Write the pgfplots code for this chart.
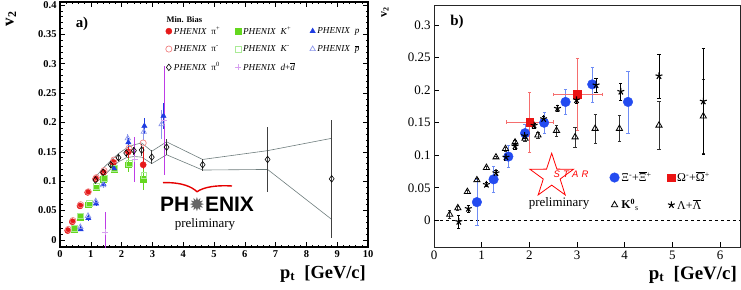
\documentclass[border=0pt]{standalone}
\usepackage{fontspec}
\setmainfont{Liberation Serif}
\newfontfamily\phx{Liberation Sans}
\newfontfamily\dejavu{DejaVu Sans}
\usepackage{pgfplots}
\pgfplotsset{compat=1.18}
\usetikzlibrary{shapes.geometric}
\definecolor{pired}{RGB}{230,25,25}
\definecolor{pilred}{RGB}{240,130,130}
\definecolor{kgreen}{RGB}{100,215,30}
\definecolor{klgreen}{RGB}{170,235,150}
\definecolor{pblue}{RGB}{30,60,225}
\definecolor{plblue}{RGB}{140,150,235}
\definecolor{dmag}{RGB}{190,60,230}
\definecolor{dlmag}{RGB}{215,160,240}
\definecolor{bandgray}{RGB}{110,125,125}
\definecolor{xiblue}{RGB}{35,75,240}
\definecolor{xilblue}{RGB}{110,140,245}
\definecolor{omred}{RGB}{235,20,20}
\definecolor{omlred}{RGB}{245,110,110}
\begin{document}
\begin{tikzpicture}
\useasboundingbox (0,0) rectangle (741bp,290bp);
%================ LEFT PANEL =================
\begin{axis}[at={(60bp,43bp)}, anchor=south west, scale only axis,
  width=308bp, height=245bp,
  xmin=0, xmax=10, ymin=-0.012, ymax=0.405,
  axis line style={line width=1.2bp},
  tick align=inside, tick style={black, line width=0.6bp},
  major tick length=5bp, minor tick length=2.5bp,
  xtick={0,1,...,10}, ytick={0,0.05,0.1,0.15,0.2,0.25,0.3,0.35,0.4},
  minor x tick num=4, minor y tick num=4,
  /pgf/number format/assume math mode=true,
  ticklabel style={font=\bfseries\fontsize{10.5}{12}\selectfont},
  yticklabel style={/pgf/number format/fixed, /pgf/number format/precision=2},
  legend columns=3,
  legend cell align=left,
  legend style={at={(axis cs:3.33,0.370)}, anchor=north west, draw=none, fill=none,
    font=\fontsize{9.2}{10}\selectfont, row sep=5.5bp,
    /tikz/every even column/.append style={column sep=13bp}},
]
% pi0 systematic band
\addplot[bandgray, line width=0.6bp, forget plot] coordinates {(1.15,0.107)(1.4,0.122)(1.65,0.135)(1.9,0.147)(2.15,0.156)(2.4,0.162)(2.65,0.165)(2.98,0.151)(3.46,0.167)(4.63,0.137)(6.74,0.152)(8.82,0.173)};
\addplot[bandgray, line width=0.6bp, forget plot] coordinates {(1.15,0.097)(1.4,0.108)(1.65,0.121)(1.9,0.133)(2.15,0.140)(2.4,0.142)(2.65,0.141)(2.98,0.130)(3.46,0.145)(4.63,0.119)(6.74,0.120)(8.82,0.035)};
% pi+
\addplot[only marks, mark=*, mark size=3.1bp, color=pired,
  error bars/.cd, y dir=both, y explicit, error bar style={pired, line width=0.8bp}, error mark=none]
  coordinates {(0.25,0.016)+-(0,0.002)(0.40,0.031)+-(0,0.002)(0.65,0.058)+-(0,0.002)(0.90,0.081)+-(0,0.002)(1.16,0.104)+-(0,0.003)(1.41,0.115)+-(0,0.003)(1.73,0.132)+-(0,0.004)(2.22,0.150)+-(0,0.010)(2.70,0.128)+-(0,0.030)};
\addlegendentry{\textit{PHENIX}~~π\textsuperscript{+}}
% K+
\addplot[only marks, mark=square*, mark size=2.9bp, color=kgreen,
  error bars/.cd, y dir=both, y explicit, error bar style={kgreen, line width=0.8bp}, error mark=none]
  coordinates {(0.45,0.018)+-(0,0.004)(0.65,0.039)+-(0,0.003)(0.92,0.060)+-(0,0.003)(1.17,0.089)+-(0,0.004)(1.41,0.103)+-(0,0.005)(1.75,0.120)+-(0,0.006)(2.22,0.128)+-(0,0.012)(2.70,0.103)+-(0,0.018)};
\addlegendentry{\textit{PHENIX}~~\textit{K}\textsuperscript{+}}
% p
\addplot[only marks, mark=triangle*, mark size=3.1bp, color=pblue,
  error bars/.cd, y dir=both, y explicit, error bar style={pblue, line width=0.8bp}, error mark=none]
  coordinates {(0.67,0.018)+-(0,0.003)(0.92,0.037)+-(0,0.004)(1.17,0.062)+-(0,0.004)(1.41,0.095)+-(0,0.005)(1.75,0.122)+-(0,0.006)(2.22,0.166)+-(0,0.008)(2.74,0.194)+-(0,0.013)(3.36,0.211)+-(0,0.022)};
\addlegendentry{\textit{PHENIX}~~\textit{p}}
% pi-
\addplot[only marks, mark=o, mark size=3.1bp, color=pilred, mark options={line width=0.7bp}]
  coordinates {(0.27,0.018)(0.42,0.033)(0.67,0.060)(0.92,0.082)(1.18,0.106)(1.43,0.118)(1.75,0.136)(2.24,0.156)(2.70,0.165)};
\addlegendentry{\textit{PHENIX}~~π\textsuperscript{-}}
% K-
\addplot[only marks, mark=square, mark size=2.9bp, color=klgreen, mark options={line width=0.7bp}]
  coordinates {(0.47,0.020)(0.67,0.041)(0.94,0.062)(1.19,0.091)(1.43,0.105)(1.77,0.122)(2.24,0.131)(2.72,0.110)};
\addlegendentry{\textit{PHENIX}~~\textit{K}\textsuperscript{-}}
% pbar
\addplot[only marks, mark=triangle, mark size=3.1bp, color=plblue, mark options={line width=0.7bp},
  error bars/.cd, y dir=both, y explicit, error bar style={plblue, line width=0.8bp}, error mark=none]
  coordinates {(0.66,0.022)+-(0,0.003)(0.91,0.041)+-(0,0.004)(1.16,0.066)+-(0,0.004)(1.40,0.093)+-(0,0.005)(2.20,0.173)+-(0,0.008)(2.72,0.184)+-(0,0.014)(3.30,0.197)+-(0,0.025)};
\addlegendentry{\textit{PHENIX}~~$\overline{\mbox{\textit{p}}}$}
% pi0
\addplot[only marks, mark=diamond, mark size=3.3bp, color=black, mark options={fill=white, line width=0.6bp},
  error bars/.cd, y dir=both, y explicit, error bar style={black!75, line width=1.1bp}, error mark=none]
  coordinates {(1.15,0.102)+-(0,0.004)(1.40,0.115)+-(0,0.004)(1.65,0.128)+-(0,0.005)(1.90,0.140)+-(0,0.005)(2.15,0.148)+-(0,0.006)(2.40,0.152)+-(0,0.007)(2.65,0.153)+-(0,0.010)(2.98,0.141)+-(0,0.012)(3.46,0.158)+-(0,0.013)(4.63,0.128)+-(0,0.010)(6.74,0.137)+-(0,0.056)(8.82,0.104)+-(0,0.100)};
\addlegendentry{\textit{PHENIX}~~π\textsuperscript{0}}
% d + dbar
\addplot[only marks, mark=+, mark size=3bp, color=dlmag, mark options={line width=1.2bp},
  error bars/.cd, y dir=both, y explicit, error bar style={dmag, line width=0.9bp}, error mark=none]
  coordinates {(1.47,0.013)+-(0,0.034)(2.42,0.137)+-(0,0.039)(3.38,0.203)+-(0,0.093)};
\addlegendentry{\textit{PHENIX}~~\textit{d}+$\overline{\mbox{\textit{d}}}$}
\end{axis}
%================ RIGHT PANEL =================
\begin{axis}[at={(434bp,43bp)}, anchor=south west, scale only axis,
  width=306bp, height=242bp,
  xmin=0, xmax=6.42, ymin=-0.041, ymax=0.331,
  axis line style={line width=0.8bp, black!85},
  tick align=inside, tick style={black, line width=0.6bp},
  major tick length=5bp,
  xtick pos=bottom, ytick pos=left,
  xtick={0,1,...,6}, ytick={0,0.05,0.1,0.15,0.2,0.25,0.3},
  /pgf/number format/assume math mode=true,
  ticklabel style={font=\fontsize{13}{15}\selectfont},
  yticklabel style={/pgf/number format/fixed, /pgf/number format/precision=2},
  legend columns=2,
  legend cell align=left,
  legend style={at={(axis cs:3.62,0.081)}, anchor=north west, draw=none, fill=none,
    font=\fontsize{12}{14}\selectfont, row sep=12bp,
    /tikz/every even column/.append style={column sep=14bp}},
]
\addplot[black, dashed, line width=0.6bp, forget plot] coordinates {(0,0)(6.42,0)};
% Xi
\addplot[only marks, mark=*, mark size=4.8bp, color=xiblue,
  error bars/.cd, y dir=both, y explicit, error bar style={xilblue, line width=0.8bp},
  error mark options={rotate=90, mark size=1.6bp, xilblue}]
  coordinates {(0.90,0.028)+-(0,0.035)(1.25,0.063)+-(0,0.020)(1.56,0.098)+-(0,0.017)(1.91,0.134)+-(0,0.013)(2.31,0.150)+-(0,0.016)(2.76,0.182)+-(0,0.019)(3.32,0.209)+-(0,0.027)(4.07,0.182)+-(0,0.048)};
\addlegendentry{Ξ\textsuperscript{-}+$\overline{\mbox{Ξ}}$\textsuperscript{+}}
% Omega
\addplot[only marks, mark=square*, mark size=3.8bp, color=omred,
  error bars/.cd, x dir=both, x explicit, y dir=both, y explicit, error bar style={omlred, line width=0.8bp},
  error mark options={rotate=90, mark size=1.6bp, omlred}]
  coordinates {(2.01,0.151)+-(0.50,0.046)(3.01,0.194)+-(0.51,0.055)};
\addlegendentry{Ω\textsuperscript{-}+$\overline{\mbox{Ω}}$\textsuperscript{+}}
% K0s
\addplot[only marks, mark=triangle, mark size=3.6bp, color=black, mark options={fill=white, line width=0.8bp},
  error bars/.cd, y dir=both, y explicit, error bar style={black!80, line width=0.8bp},
  error mark options={rotate=90, mark size=1.6bp, black!80}]
  coordinates {(0.33,0.009)+-(0,0.006)(0.50,0.019)+-(0,0.003)(0.70,0.044)+-(0,0.002)(0.90,0.062)+-(0,0.002)(1.10,0.081)+-(0,0.002)(1.30,0.097)+-(0,0.002)(1.50,0.110)+-(0,0.003)(1.70,0.120)+-(0,0.003)(1.91,0.126)+-(0,0.004)(2.18,0.131)+-(0,0.005)(2.57,0.138)+-(0,0.008)(2.96,0.128)+-(0,0.015)(3.38,0.141)+-(0,0.022)(3.89,0.141)+-(0,0.020)(4.72,0.146)+-(0,0.037)(5.65,0.160)+-(0,0.057)};
\addlegendentry{\textbf{K}\textsuperscript{\textbf{0}}\textsubscript{s}}
% Lambda
\addplot[only marks, mark=star, mark size=3.6bp, color=black, mark options={line width=1.1bp},
  error bars/.cd, y dir=both, y explicit, error bar style={black, line width=0.8bp},
  error mark options={rotate=90, mark size=1.6bp, black}]
  coordinates {(0.52,-0.002)+-(0,0.010)(0.72,0.018)+-(0,0.005)(1.10,0.055)+-(0,0.003)(1.30,0.073)+-(0,0.004)(1.51,0.097)+-(0,0.004)(1.70,0.114)+-(0,0.004)(1.90,0.130)+-(0,0.004)(2.10,0.146)+-(0,0.004)(2.30,0.156)+-(0,0.004)(2.59,0.172)+-(0,0.005)(2.99,0.185)+-(0,0.005)(3.40,0.208)+-(0,0.011)(3.92,0.198)+-(0,0.013)(4.72,0.222)+-(0,0.034)(5.65,0.183)+-(0,0.082)};
\addlegendentry{Λ+$\overline{\mbox{Λ}}$}
\end{axis}
%================ DECORATIONS =================
% left panel
\node[font=\bfseries\fontsize{15}{15}\selectfont] at (82bp,266bp) {a)};
\node[font=\bfseries\fontsize{8.5}{10}\selectfont, anchor=west] at (163bp,270bp) {Min. Bias};
\node[rotate=90, font=\bfseries\fontsize{17}{17}\selectfont] at (11bp,271bp) {v\textsubscript{2}};
\node[anchor=base east, font=\bfseries\fontsize{18.5}{19}\selectfont, inner sep=0] at (366bp,12bp) {p\textsubscript{t}~~[GeV/c]};
\draw[red!90!black, line width=1.4bp] (163bp,107.3bp) .. controls (182bp,108bp) and (192bp,103bp) .. (197bp,98.3bp) .. controls (204bp,103bp) and (216bp,105bp) .. (232bp,104bp);
\node[font=\phx\bfseries\fontsize{21}{21}\selectfont, inner sep=0] at (207bp,86bp) {PH{\color{black!60}\dejavu\fontsize{19}{19}\selectfont ✹}ENIX};
\node[font=\fontsize{13}{13}\selectfont, inner sep=0] at (205bp,66bp) {preliminary};
% right panel
\node[font=\bfseries\fontsize{15}{15}\selectfont] at (457bp,268bp) {b)};
\node[rotate=90, font=\bfseries\fontsize{12}{12}\selectfont] at (385bp,278bp) {v\textsubscript{2}};
\node[anchor=base east, font=\bfseries\fontsize{19}{19}\selectfont, inner sep=0] at (737bp,11bp) {p\textsubscript{t}~~[GeV/c]};
\node[star, star points=5, star point ratio=2.6, draw=red, line width=0.8bp, minimum size=46bp, inner sep=0] at (551.7bp,113.7bp) {};
\node[font=\phx\itshape\fontsize{9.5}{9.5}\selectfont, text=red] at (571bp,115.5bp) {S\,\,T\,\,A\,\,R};
\node[font=\fontsize{13}{13}\selectfont] at (559bp,87bp) {preliminary};
\end{tikzpicture}
\end{document}
